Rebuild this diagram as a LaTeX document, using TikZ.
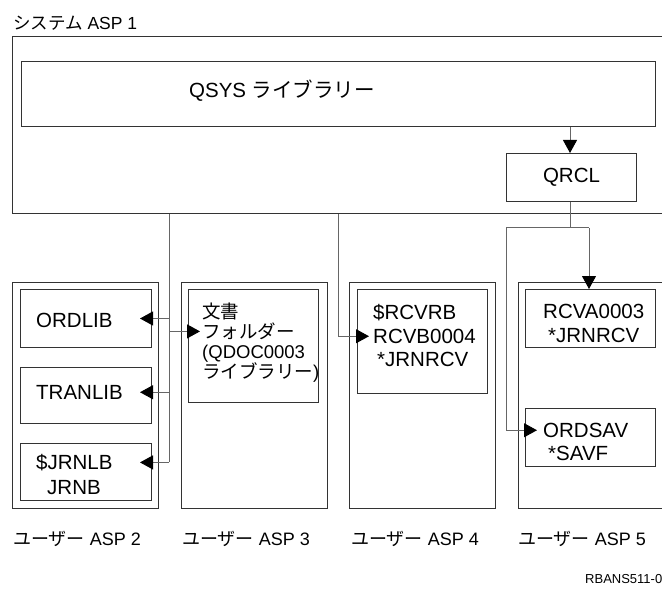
\documentclass[tikz,border=0pt]{standalone}
\usepackage{fontspec}
\setmainfont{Liberation Sans}
\newfontfamily\jp{Noto Sans CJK JP}
\usetikzlibrary{arrows.meta,calc}
\begin{document}
\begin{tikzpicture}[x=1pt,y=-1pt,
  >={Triangle[length=13pt,width=14pt,color=black]},
  box/.style={draw=black!80, line width=1pt, anchor=north west, inner sep=0pt},
  conn/.style={draw=black!60, line width=1pt},
  arr/.style={conn, ->},
  arrin/.style={arr, shorten >=-12pt},
  txt/.style={font=\fontsize{20.5}{24}\selectfont, anchor=base west, inner sep=0pt},
  doctxt/.style={font=\fontsize{18.5}{20}\selectfont, anchor=base west, inner sep=0pt},
  lbl/.style={font=\fontsize{18}{21}\selectfont, anchor=base west, inner sep=0pt},
  small/.style={font=\fontsize{13}{15}\selectfont, anchor=base west, inner sep=0pt}]
\useasboundingbox (0,0) rectangle (662,591);
\clip (0,0) rectangle (662,591);

% system ASP 1
\node[lbl, font=\fontsize{17.5}{20}\selectfont] (title) at (13,29.3) {{\jp システム} ASP 1};
\node[box, minimum width=668pt, minimum height=177pt] (sys) at (12,36) {};
\node[box, minimum width=634pt, minimum height=65pt] (qsys) at (21,61) {};
\node[txt] (qsyst) at (189,97.3) {QSYS {\jp ライブラリー}};
\node[box, minimum width=130pt, minimum height=48pt, font=\fontsize{20.5}{24}\selectfont] (qrcl) at (506,153) {QRCL};

% user ASP 2
\node[box, minimum width=146pt, minimum height=226pt] (asp2) at (12,282) {};
\node[box, minimum width=131pt, minimum height=58pt] (ordlib) at (20,289) {};
\node[txt] (ordlibt) at (36,327.3) {ORDLIB};
\node[box, minimum width=131pt, minimum height=56pt] (tranlib) at (20,367) {};
\node[txt] (tranlibt) at (36,399.3) {TRANLIB};
\node[box, minimum width=131pt, minimum height=57pt] (jrnlb) at (20,443) {};
\node[txt] (jrnlbt1) at (36,469.3) {\$JRNLB};
\node[txt] (jrnlbt2) at (47,494.3) {JRNB};

% user ASP 3
\node[box, minimum width=146pt, minimum height=226pt] (asp3) at (181,282) {};
\node[box, minimum width=130pt, minimum height=113pt] (doc) at (188,289) {};
\node[doctxt] (doct1) at (202,318.6) {\jp 文書};
\node[doctxt] (doct2) at (202,338.6) {\jp フォルダー};
\node[doctxt] (doct3) at (202,358.6) {(QDOC0003};
\node[doctxt] (doct4) at (202,378.6) {{\jp ライブラリー})};

% user ASP 4
\node[box, minimum width=146pt, minimum height=226pt] (asp4) at (349,282) {};
\node[box, minimum width=130pt, minimum height=104pt] (rcvb) at (357,289) {};
\node[txt] (rcvbt1) at (373,319.3) {\$RCVRB};
\node[txt] (rcvbt2) at (373,343.3) {RCVB0004};
\node[txt] (rcvbt3) at (377,366.3) {*JRNRCV};

% user ASP 5
\node[box, minimum width=162pt, minimum height=226pt] (asp5) at (518,282) {};
\node[box, minimum width=130pt, minimum height=58pt] (rcva) at (525,289) {};
\node[txt] (rcvat1) at (543,318.3) {RCVA0003};
\node[txt] (rcvat2) at (548,342.3) {*JRNRCV};
\node[box, minimum width=130pt, minimum height=58pt] (ordsav) at (525,408) {};
\node[txt] (ordsavt1) at (543,437.3) {ORDSAV};
\node[txt] (ordsavt2) at (548,460.3) {*SAVF};

% labels
\node[lbl] (l2) at (13,545.5) {{\jp ユーザー} ASP 2};
\node[lbl] (l3) at (182,545.5) {{\jp ユーザー} ASP 3};
\node[lbl] (l4) at (351,545.5) {{\jp ユーザー} ASP 4};
\node[lbl] (l5) at (518,545.5) {{\jp ユーザー} ASP 5};
\node[small] (ref) at (585,583.6) {RBANS511-0};

% connectors
\coordinate (A) at (169,0);
\coordinate (B) at (338,0);
\coordinate (C) at (570,0);
\coordinate (cL) at (506,228);
\coordinate (cR) at (589,228);

\draw[arr] (qsys.south -| C) -- (qrcl.north -| C);

\draw[conn] (sys.south -| A) -- (A |- jrnlbt1.west);
\draw[arrin] (A |- ordlib.east) -- (ordlib.east);
\draw[arrin] (A |- tranlibt.west) -- (tranlib.east |- tranlibt.west);
\draw[arrin] (A |- jrnlbt1.west) -- (jrnlb.east |- jrnlbt1.west);
\draw[arrin] (A |- doct2.west) -- (doc.west |- doct2.west);

\draw[arrin] (sys.south -| B) |- (rcvb.west |- rcvbt2.west);

\draw[conn] (qrcl.south -| C) -- (C |- cL);
\draw[conn] (cL) -- (cR);
\draw[arr] (cR) -- (rcva.north -| cR);
\draw[arrin] (cL) |- (ordsav.west |- ordsavt1.west);
\end{tikzpicture}
\end{document}
